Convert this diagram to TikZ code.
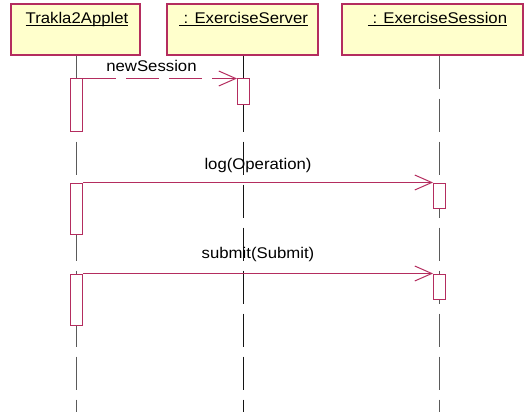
\documentclass[tikz,border=0pt]{standalone}
\usepackage{fontspec}
\setmainfont{Liberation Sans}[FakeStretch=1.08]
\usetikzlibrary{arrows.meta}
\definecolor{umlred}{RGB}{180,45,95}
\definecolor{umlfill}{RGB}{255,255,204}
\definecolor{lifegray}{RGB}{90,90,90}
\definecolor{lifedark}{RGB}{20,20,20}
\newcommand\ulabel[1]{\setbox0\hbox{#1}\rlap{\rule[-2pt]{\wd0}{1pt}}\box0}
\tikzset{
  objbox/.style={draw=umlred, fill=umlfill, line width=1.2pt, inner sep=0pt, minimum height=51pt},
  objtext/.style={anchor=base, inner sep=0pt, font=\fontsize{15.5}{18}\selectfont},
  msgtext/.style={anchor=base, inner sep=0pt, font=\fontsize{15.5}{18}\selectfont},
  actbox/.style={draw=umlred, fill=white, line width=1pt, inner sep=0pt, minimum width=12pt},
  life/.style={line width=1.5pt, dash pattern=on 33pt off 10pt},
  msg/.style={draw=umlred, line width=1pt, -{Straight Barb[length=17pt,width=15pt]}},
  msgdash/.style={msg, dash pattern=on 33pt off 10pt}
}
\begin{document}
\begin{tikzpicture}[x=1pt,y=-1pt]
\useasboundingbox (0,0) rectangle (525,412);
% objects
\node[objbox, minimum width=129pt] (o1) at (75.5,29.5) {};
\node[objbox, minimum width=151pt] (o2) at (242.5,29.5) {};
\node[objbox, minimum width=181pt] (o3) at (432.5,29.5) {};
\node[objtext] (t1) at (77,24) {\ulabel{Trakla2Applet}};
\node[objtext] (t2) at (243.5,24) {\ulabel{\ : ExerciseServer}};
\node[objtext] (t3) at (437.5,24) {\ulabel{\ : ExerciseSession}};
% lifeline ends
\coordinate (e1) at (76.5,412);
\coordinate (e2) at (243.5,412);
\coordinate (e3) at (439.5,412);
\draw[life, lifegray] (o1.south -| e1) -- (e1);
\draw[life, lifedark, line width=1pt] (o2.south -| e2) -- (e2);
\draw[life, lifegray] (o3.south -| e3) -- (e3);
% activations
\node[actbox, minimum height=52pt] (a1) at (76.5,105) {};
\node[actbox, minimum height=25pt] (b1) at (243.5,91.5) {};
\node[actbox, minimum height=51pt] (a2) at (76.5,208.5) {};
\node[actbox, minimum height=25pt] (c1) at (439.5,195.5) {};
\node[actbox, minimum height=51pt] (a3) at (76.5,299.5) {};
\node[actbox, minimum height=25pt] (c2) at (439.5,286.5) {};
% messages
\draw[msgdash] (a1.north east) -- (b1.north west);
\draw[msg] (a2.north east) -- (c1.north west);
\draw[msg] (a3.north east) -- (c2.north west);
\node[msgtext] (m1) at (151.5,72) {newSession};
\node[msgtext] (m2) at (258,169.5) {log(Operation)};
\node[msgtext] (m3) at (258,258.5) {submit(Submit)};
\end{tikzpicture}
\end{document}
